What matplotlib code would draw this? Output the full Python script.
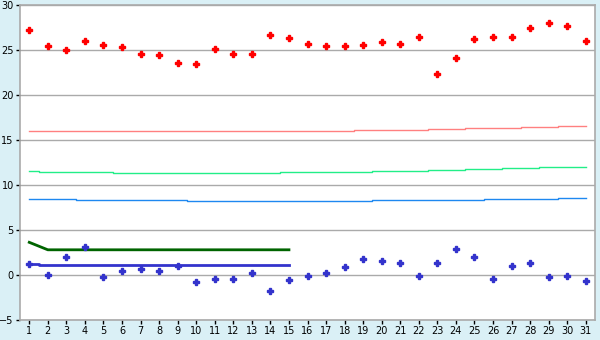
import numpy as np
import matplotlib
matplotlib.use("Agg")
import matplotlib.pyplot as plt

dias = list(range(1, 32))

# pontos (losangos)
vermelho = [27.2, 25.5, 25.0, 26.0, 25.6, 25.3, 24.6, 24.5, 23.6, 23.4,
            25.1, 24.6, 24.6, 26.7, 26.3, 25.7, 25.5, 25.4, 25.6, 25.9,
            25.7, 26.5, 22.3, 24.1, 26.2, 26.4, 26.5, 27.4, 28.0, 27.7, 26.0]
azul = [1.26, 0.0, 1.96, 3.07, -0.26, 0.41, 0.63, 0.41, 0.96, -0.81,
        -0.48, -0.48, 0.19, -1.81, -0.59, -0.15, 0.19, 0.85, 1.74, 1.52,
        1.3, -0.15, 1.3, 2.85, 1.96, -0.48, 0.96, 1.3, -0.26, -0.15, -0.7]

# linhas em degrau
linha_rosa = [15.96] * 18 + [16.07] * 4 + [16.19] * 2 + [16.3] * 3 + [16.41] * 2 + [16.52] * 2
linha_verde = [11.56] + [11.44] * 4 + [11.3] * 9 + [11.41] * 5 + [11.52] * 3 + [11.63] * 2 \
    + [11.74] * 2 + [11.86] * 2 + [11.97] * 3
linha_azul_clara = [8.41] * 3 + [8.3] * 6 + [8.19] * 10 + [8.3] * 6 + [8.41] * 4 + [8.52] * 2

# linhas grossas (dias 1 a 15)
dias_15 = list(range(1, 16))
linha_verde_escura = [3.63] + [2.8] * 14
linha_azul_escura = [1.26] + [1.11] * 14

yticks = [-5, 0, 5, 10, 15, 20, 25, 30]

fundo = "#DAF0F6"
cinza = "#AAAAAA"

fig = plt.figure(figsize=(6, 3.4), dpi=100, facecolor=fundo)
ax = fig.add_axes([20 / 600, 1 - 320 / 340, 575 / 600, 315 / 340])
ax.set_facecolor("white")

for y in yticks:
    ax.axhline(y, color=cinza, lw=1.0, zorder=1)

ax.plot(dias, linha_rosa, drawstyle="steps-mid", color="#FF8080", lw=1.0, zorder=2)
ax.plot(dias, linha_verde, drawstyle="steps-mid", color="#22EE88", lw=1.0, zorder=2)
ax.plot(dias, linha_azul_clara, drawstyle="steps-mid", color="#1E88F0", lw=1.0, zorder=2)
ax.plot(dias_15, linha_verde_escura, color="#006400", lw=2.0, zorder=3)
ax.plot(dias_15, linha_azul_escura, drawstyle="steps-mid", color="#3333CC", lw=2.0, zorder=3)

ax.plot(dias, vermelho, "P", color="#FF0000", ms=4.5, mew=1.0, zorder=4)
ax.plot(dias, azul, "P", color="#3333CC", ms=4.5, mew=1.0, zorder=4)

ax.set_xlim(0.5, 31.5)
ax.set_ylim(-5, 30)
ax.set_xticks(dias)
ax.set_yticks(yticks)
ax.tick_params(axis="both", length=3, width=1, color="black", labelsize=7,
               labelcolor="black", pad=1.5)
for lado in ["left", "right", "top", "bottom"]:
    ax.spines[lado].set_color(cinza)
    ax.spines[lado].set_linewidth(1.2)

fig.savefig("out.png", dpi=100, facecolor=fundo)
